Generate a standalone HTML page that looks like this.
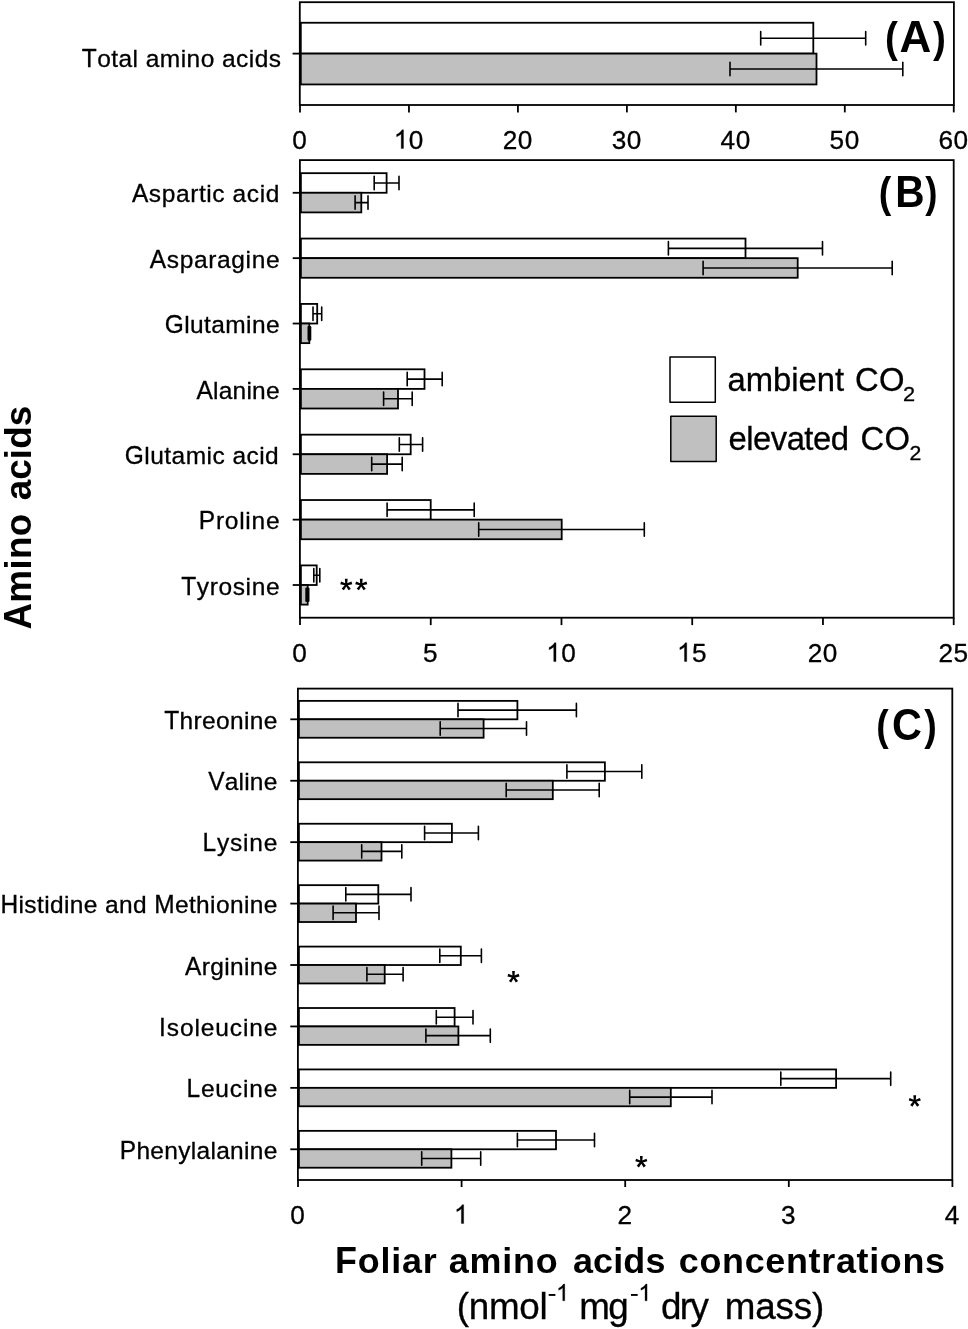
<!DOCTYPE html>
<html><head><meta charset="utf-8"><title>Foliar amino acids</title>
<style>
html,body{margin:0;padding:0;background:#fff;}
svg{display:block;will-change:transform;filter:blur(0.35px);}
text{font-family:"Liberation Sans",sans-serif;fill:#000;font-kerning:none;}
</style></head>
<body>
<svg width="968" height="1329" viewBox="0 0 968 1329">
<rect x="0" y="0" width="968" height="1329" fill="#fff"/>
<rect x="300.80" y="22.76" width="512.50" height="30.84" fill="#fff" stroke="#000" stroke-width="1.8"/>
<rect x="300.80" y="53.60" width="515.70" height="30.84" fill="#c0c0c0" stroke="#000" stroke-width="1.8"/>
<rect x="299.80" y="2.20" width="654.10" height="102.80" fill="none" stroke="#000" stroke-width="1.8"/>
<path d="M760.70 31.48V44.88M865.70 31.48V44.88M760.70 38.18H865.70" fill="none" stroke="#000" stroke-width="1.6" stroke-linecap="round"/>
<path d="M730.00 62.32V75.72M902.80 62.32V75.72M730.00 69.02H902.80" fill="none" stroke="#000" stroke-width="1.6" stroke-linecap="round"/>
<line x1="292.60" y1="53.60" x2="299.80" y2="53.60" stroke="#000" stroke-width="1.8"/>
<text transform="translate(81.80,67.10) scale(1.0000,1.04)" font-size="24.5" font-weight="normal" letter-spacing="0.447" xml:space="preserve" stroke="#000" stroke-width="0.3" >T</text>
<text transform="translate(97.21,67.10) scale(1.0000,1.0)" font-size="24.5" font-weight="normal" letter-spacing="0.447" xml:space="preserve" stroke="#000" stroke-width="0.3" >otal amino acids</text>
<line x1="300.00" y1="105.00" x2="300.00" y2="112.40" stroke="#000" stroke-width="1.8"/>
<text transform="translate(292.31,148.60) scale(1,1.015)" font-size="26.2" stroke="#000" stroke-width="0.3">0</text>
<line x1="408.96" y1="105.00" x2="408.96" y2="112.40" stroke="#000" stroke-width="1.8"/>
<path transform="translate(393.74,148.60) scale(0.01279,-0.01279)" d="M763 0H583V1147Q518 1085 412.5 1023T223 930V1104Q374 1175 487 1276T647 1472H763Z" fill="#000" stroke="#000" stroke-width="24"/>
<text transform="translate(408.81,148.60) scale(1,1.015)" font-size="26.2" stroke="#000" stroke-width="0.3">0</text>
<line x1="517.92" y1="105.00" x2="517.92" y2="112.40" stroke="#000" stroke-width="1.8"/>
<text transform="translate(502.70,148.60) scale(1,1.015)" font-size="26.2" stroke="#000" stroke-width="0.3">2</text>
<text transform="translate(517.77,148.60) scale(1,1.015)" font-size="26.2" stroke="#000" stroke-width="0.3">0</text>
<line x1="626.88" y1="105.00" x2="626.88" y2="112.40" stroke="#000" stroke-width="1.8"/>
<text transform="translate(611.66,148.60) scale(1,1.015)" font-size="26.2" stroke="#000" stroke-width="0.3">3</text>
<text transform="translate(626.73,148.60) scale(1,1.015)" font-size="26.2" stroke="#000" stroke-width="0.3">0</text>
<line x1="735.84" y1="105.00" x2="735.84" y2="112.40" stroke="#000" stroke-width="1.8"/>
<text transform="translate(720.62,148.60) scale(1,1.015)" font-size="26.2" stroke="#000" stroke-width="0.3">4</text>
<text transform="translate(735.69,148.60) scale(1,1.015)" font-size="26.2" stroke="#000" stroke-width="0.3">0</text>
<line x1="844.80" y1="105.00" x2="844.80" y2="112.40" stroke="#000" stroke-width="1.8"/>
<text transform="translate(829.58,148.60) scale(1,1.015)" font-size="26.2" stroke="#000" stroke-width="0.3">5</text>
<text transform="translate(844.65,148.60) scale(1,1.015)" font-size="26.2" stroke="#000" stroke-width="0.3">0</text>
<line x1="953.76" y1="105.00" x2="953.76" y2="112.40" stroke="#000" stroke-width="1.8"/>
<text transform="translate(938.54,148.60) scale(1,1.015)" font-size="26.2" stroke="#000" stroke-width="0.3">6</text>
<text transform="translate(953.61,148.60) scale(1,1.015)" font-size="26.2" stroke="#000" stroke-width="0.3">0</text>
<rect x="300.90" y="173.17" width="85.70" height="19.61" fill="#fff" stroke="#000" stroke-width="1.8"/>
<rect x="300.90" y="192.79" width="60.40" height="19.61" fill="#c0c0c0" stroke="#000" stroke-width="1.8"/>
<rect x="300.90" y="238.55" width="444.60" height="19.61" fill="#fff" stroke="#000" stroke-width="1.8"/>
<rect x="300.90" y="258.16" width="496.80" height="19.61" fill="#c0c0c0" stroke="#000" stroke-width="1.8"/>
<rect x="300.90" y="303.92" width="16.30" height="19.61" fill="#fff" stroke="#000" stroke-width="1.8"/>
<rect x="300.90" y="323.53" width="8.40" height="19.61" fill="#c0c0c0" stroke="#000" stroke-width="1.8"/>
<rect x="300.90" y="369.29" width="123.60" height="19.61" fill="#fff" stroke="#000" stroke-width="1.8"/>
<rect x="300.90" y="388.90" width="97.10" height="19.61" fill="#c0c0c0" stroke="#000" stroke-width="1.8"/>
<rect x="300.90" y="434.66" width="109.80" height="19.61" fill="#fff" stroke="#000" stroke-width="1.8"/>
<rect x="300.90" y="454.27" width="86.20" height="19.61" fill="#c0c0c0" stroke="#000" stroke-width="1.8"/>
<rect x="300.90" y="500.03" width="129.80" height="19.61" fill="#fff" stroke="#000" stroke-width="1.8"/>
<rect x="300.90" y="519.64" width="260.80" height="19.61" fill="#c0c0c0" stroke="#000" stroke-width="1.8"/>
<rect x="300.90" y="565.40" width="15.80" height="19.61" fill="#fff" stroke="#000" stroke-width="1.8"/>
<rect x="300.90" y="585.01" width="6.80" height="19.61" fill="#c0c0c0" stroke="#000" stroke-width="1.8"/>
<rect x="299.90" y="160.10" width="653.80" height="457.60" fill="none" stroke="#000" stroke-width="1.8"/>
<path d="M374.20 176.28V189.68M399.00 176.28V189.68M374.20 182.98H399.00" fill="none" stroke="#000" stroke-width="1.6" stroke-linecap="round"/>
<path d="M355.10 195.89V209.29M368.00 195.89V209.29M355.10 202.59H368.00" fill="none" stroke="#000" stroke-width="1.6" stroke-linecap="round"/>
<line x1="292.70" y1="192.79" x2="299.90" y2="192.79" stroke="#000" stroke-width="1.8"/>
<text transform="translate(131.90,202.20) scale(1.0000,1.04)" font-size="24.5" font-weight="normal" letter-spacing="0.598" xml:space="preserve" stroke="#000" stroke-width="0.3" >A</text>
<text transform="translate(148.84,202.20) scale(1.0000,1.0)" font-size="24.5" font-weight="normal" letter-spacing="0.598" xml:space="preserve" stroke="#000" stroke-width="0.3" >spartic acid</text>
<path d="M668.40 241.65V255.05M822.50 241.65V255.05M668.40 248.35H822.50" fill="none" stroke="#000" stroke-width="1.6" stroke-linecap="round"/>
<path d="M703.10 261.26V274.66M892.20 261.26V274.66M703.10 267.96H892.20" fill="none" stroke="#000" stroke-width="1.6" stroke-linecap="round"/>
<line x1="292.70" y1="258.16" x2="299.90" y2="258.16" stroke="#000" stroke-width="1.8"/>
<text transform="translate(149.80,267.90) scale(1.0000,1.04)" font-size="24.5" font-weight="normal" letter-spacing="0.642" xml:space="preserve" stroke="#000" stroke-width="0.3" >A</text>
<text transform="translate(166.78,267.90) scale(1.0000,1.0)" font-size="24.5" font-weight="normal" letter-spacing="0.642" xml:space="preserve" stroke="#000" stroke-width="0.3" >sparagine</text>
<path d="M313.00 307.02V320.42M321.70 307.02V320.42M313.00 313.72H321.70" fill="none" stroke="#000" stroke-width="1.6" stroke-linecap="round"/>
<rect x="307.50" y="326.03" width="3.80" height="14.6" rx="1.1" fill="#000"/>
<line x1="292.70" y1="323.53" x2="299.90" y2="323.53" stroke="#000" stroke-width="1.8"/>
<text transform="translate(164.70,333.10) scale(1.0000,1.04)" font-size="24.5" font-weight="normal" letter-spacing="0.396" xml:space="preserve" stroke="#000" stroke-width="0.3" >G</text>
<text transform="translate(184.15,333.10) scale(1.0000,1.0)" font-size="24.5" font-weight="normal" letter-spacing="0.396" xml:space="preserve" stroke="#000" stroke-width="0.3" >lutamine</text>
<path d="M407.20 372.39V385.79M442.20 372.39V385.79M407.20 379.09H442.20" fill="none" stroke="#000" stroke-width="1.6" stroke-linecap="round"/>
<path d="M383.60 392.01V405.41M412.20 392.01V405.41M383.60 398.71H412.20" fill="none" stroke="#000" stroke-width="1.6" stroke-linecap="round"/>
<line x1="292.70" y1="388.90" x2="299.90" y2="388.90" stroke="#000" stroke-width="1.8"/>
<text transform="translate(196.50,398.60) scale(1.0000,1.04)" font-size="24.5" font-weight="normal" letter-spacing="0.216" xml:space="preserve" stroke="#000" stroke-width="0.3" >A</text>
<text transform="translate(213.06,398.60) scale(1.0000,1.0)" font-size="24.5" font-weight="normal" letter-spacing="0.216" xml:space="preserve" stroke="#000" stroke-width="0.3" >lanine</text>
<path d="M399.30 437.77V451.17M422.60 437.77V451.17M399.30 444.47H422.60" fill="none" stroke="#000" stroke-width="1.6" stroke-linecap="round"/>
<path d="M371.70 457.38V470.78M402.20 457.38V470.78M371.70 464.08H402.20" fill="none" stroke="#000" stroke-width="1.6" stroke-linecap="round"/>
<line x1="292.70" y1="454.27" x2="299.90" y2="454.27" stroke="#000" stroke-width="1.8"/>
<text transform="translate(124.80,463.70) scale(1.0000,1.04)" font-size="24.5" font-weight="normal" letter-spacing="0.460" xml:space="preserve" stroke="#000" stroke-width="0.3" >G</text>
<text transform="translate(144.32,463.70) scale(1.0000,1.0)" font-size="24.5" font-weight="normal" letter-spacing="0.460" xml:space="preserve" stroke="#000" stroke-width="0.3" >lutamic acid</text>
<path d="M387.10 503.14V516.54M474.20 503.14V516.54M387.10 509.84H474.20" fill="none" stroke="#000" stroke-width="1.6" stroke-linecap="round"/>
<path d="M478.70 522.75V536.15M644.30 522.75V536.15M478.70 529.45H644.30" fill="none" stroke="#000" stroke-width="1.6" stroke-linecap="round"/>
<line x1="292.70" y1="519.64" x2="299.90" y2="519.64" stroke="#000" stroke-width="1.8"/>
<text transform="translate(198.80,529.20) scale(1.0000,1.04)" font-size="24.5" font-weight="normal" letter-spacing="0.744" xml:space="preserve" stroke="#000" stroke-width="0.3" >P</text>
<text transform="translate(215.89,529.20) scale(1.0000,1.0)" font-size="24.5" font-weight="normal" letter-spacing="0.744" xml:space="preserve" stroke="#000" stroke-width="0.3" >roline</text>
<path d="M313.80 568.51V581.91M319.80 568.51V581.91M313.80 575.21H319.80" fill="none" stroke="#000" stroke-width="1.6" stroke-linecap="round"/>
<rect x="305.30" y="587.52" width="4.20" height="14.6" rx="1.1" fill="#000"/>
<line x1="292.70" y1="585.01" x2="299.90" y2="585.01" stroke="#000" stroke-width="1.8"/>
<text transform="translate(181.20,594.70) scale(1.0000,1.04)" font-size="24.5" font-weight="normal" letter-spacing="0.626" xml:space="preserve" stroke="#000" stroke-width="0.3" >T</text>
<text transform="translate(196.79,594.70) scale(1.0000,1.0)" font-size="24.5" font-weight="normal" letter-spacing="0.626" xml:space="preserve" stroke="#000" stroke-width="0.3" >yrosine</text>
<line x1="300.00" y1="617.70" x2="300.00" y2="625.10" stroke="#000" stroke-width="1.8"/>
<text transform="translate(292.31,661.60) scale(1,1.015)" font-size="26.2" stroke="#000" stroke-width="0.3">0</text>
<line x1="430.74" y1="617.70" x2="430.74" y2="625.10" stroke="#000" stroke-width="1.8"/>
<text transform="translate(423.05,661.60) scale(1,1.015)" font-size="26.2" stroke="#000" stroke-width="0.3">5</text>
<line x1="561.48" y1="617.70" x2="561.48" y2="625.10" stroke="#000" stroke-width="1.8"/>
<path transform="translate(546.26,661.60) scale(0.01279,-0.01279)" d="M763 0H583V1147Q518 1085 412.5 1023T223 930V1104Q374 1175 487 1276T647 1472H763Z" fill="#000" stroke="#000" stroke-width="24"/>
<text transform="translate(561.33,661.60) scale(1,1.015)" font-size="26.2" stroke="#000" stroke-width="0.3">0</text>
<line x1="692.22" y1="617.70" x2="692.22" y2="625.10" stroke="#000" stroke-width="1.8"/>
<path transform="translate(677.00,661.60) scale(0.01279,-0.01279)" d="M763 0H583V1147Q518 1085 412.5 1023T223 930V1104Q374 1175 487 1276T647 1472H763Z" fill="#000" stroke="#000" stroke-width="24"/>
<text transform="translate(692.07,661.60) scale(1,1.015)" font-size="26.2" stroke="#000" stroke-width="0.3">5</text>
<line x1="822.96" y1="617.70" x2="822.96" y2="625.10" stroke="#000" stroke-width="1.8"/>
<text transform="translate(807.74,661.60) scale(1,1.015)" font-size="26.2" stroke="#000" stroke-width="0.3">2</text>
<text transform="translate(822.81,661.60) scale(1,1.015)" font-size="26.2" stroke="#000" stroke-width="0.3">0</text>
<line x1="953.70" y1="617.70" x2="953.70" y2="625.10" stroke="#000" stroke-width="1.8"/>
<text transform="translate(938.48,661.60) scale(1,1.015)" font-size="26.2" stroke="#000" stroke-width="0.3">2</text>
<text transform="translate(953.55,661.60) scale(1,1.015)" font-size="26.2" stroke="#000" stroke-width="0.3">5</text>
<rect x="298.90" y="700.88" width="218.50" height="18.43" fill="#fff" stroke="#000" stroke-width="1.8"/>
<rect x="298.90" y="719.31" width="184.70" height="18.43" fill="#c0c0c0" stroke="#000" stroke-width="1.8"/>
<rect x="298.90" y="762.31" width="306.00" height="18.43" fill="#fff" stroke="#000" stroke-width="1.8"/>
<rect x="298.90" y="780.74" width="253.90" height="18.43" fill="#c0c0c0" stroke="#000" stroke-width="1.8"/>
<rect x="298.90" y="823.74" width="153.00" height="18.43" fill="#fff" stroke="#000" stroke-width="1.8"/>
<rect x="298.90" y="842.16" width="82.60" height="18.43" fill="#c0c0c0" stroke="#000" stroke-width="1.8"/>
<rect x="298.90" y="885.16" width="79.40" height="18.43" fill="#fff" stroke="#000" stroke-width="1.8"/>
<rect x="298.90" y="903.59" width="57.10" height="18.43" fill="#c0c0c0" stroke="#000" stroke-width="1.8"/>
<rect x="298.90" y="946.59" width="161.90" height="18.43" fill="#fff" stroke="#000" stroke-width="1.8"/>
<rect x="298.90" y="965.01" width="85.80" height="18.43" fill="#c0c0c0" stroke="#000" stroke-width="1.8"/>
<rect x="298.90" y="1008.01" width="155.70" height="18.43" fill="#fff" stroke="#000" stroke-width="1.8"/>
<rect x="298.90" y="1026.44" width="159.50" height="18.43" fill="#c0c0c0" stroke="#000" stroke-width="1.8"/>
<rect x="298.90" y="1069.43" width="537.20" height="18.43" fill="#fff" stroke="#000" stroke-width="1.8"/>
<rect x="298.90" y="1087.86" width="371.90" height="18.43" fill="#c0c0c0" stroke="#000" stroke-width="1.8"/>
<rect x="298.90" y="1130.86" width="257.10" height="18.43" fill="#fff" stroke="#000" stroke-width="1.8"/>
<rect x="298.90" y="1149.29" width="152.50" height="18.43" fill="#c0c0c0" stroke="#000" stroke-width="1.8"/>
<rect x="297.90" y="688.60" width="654.40" height="491.40" fill="none" stroke="#000" stroke-width="1.8"/>
<path d="M458.00 703.40V716.80M576.40 703.40V716.80M458.00 710.10H576.40" fill="none" stroke="#000" stroke-width="1.6" stroke-linecap="round"/>
<path d="M440.20 721.83V735.23M526.50 721.83V735.23M440.20 728.53H526.50" fill="none" stroke="#000" stroke-width="1.6" stroke-linecap="round"/>
<line x1="290.30" y1="719.31" x2="297.90" y2="719.31" stroke="#000" stroke-width="1.8"/>
<text transform="translate(164.20,728.70) scale(1.0000,1.04)" font-size="24.5" font-weight="normal" letter-spacing="0.350" xml:space="preserve" stroke="#000" stroke-width="0.3" >T</text>
<text transform="translate(179.52,728.70) scale(1.0000,1.0)" font-size="24.5" font-weight="normal" letter-spacing="0.350" xml:space="preserve" stroke="#000" stroke-width="0.3" >hreonine</text>
<path d="M566.90 764.82V778.22M641.80 764.82V778.22M566.90 771.52H641.80" fill="none" stroke="#000" stroke-width="1.6" stroke-linecap="round"/>
<path d="M506.20 783.25V796.65M599.20 783.25V796.65M506.20 789.95H599.20" fill="none" stroke="#000" stroke-width="1.6" stroke-linecap="round"/>
<line x1="290.30" y1="780.74" x2="297.90" y2="780.74" stroke="#000" stroke-width="1.8"/>
<text transform="translate(208.20,789.80) scale(1.0000,1.04)" font-size="24.5" font-weight="normal" letter-spacing="0.204" xml:space="preserve" stroke="#000" stroke-width="0.3" >V</text>
<text transform="translate(224.75,789.80) scale(1.0000,1.0)" font-size="24.5" font-weight="normal" letter-spacing="0.204" xml:space="preserve" stroke="#000" stroke-width="0.3" >aline</text>
<path d="M424.60 826.25V839.65M478.40 826.25V839.65M424.60 832.95H478.40" fill="none" stroke="#000" stroke-width="1.6" stroke-linecap="round"/>
<path d="M361.70 844.68V858.08M401.80 844.68V858.08M361.70 851.38H401.80" fill="none" stroke="#000" stroke-width="1.6" stroke-linecap="round"/>
<line x1="290.30" y1="842.16" x2="297.90" y2="842.16" stroke="#000" stroke-width="1.8"/>
<text transform="translate(202.50,851.10) scale(1.0000,1.04)" font-size="24.5" font-weight="normal" letter-spacing="0.801" xml:space="preserve" stroke="#000" stroke-width="0.3" >L</text>
<text transform="translate(216.93,851.10) scale(1.0000,1.0)" font-size="24.5" font-weight="normal" letter-spacing="0.801" xml:space="preserve" stroke="#000" stroke-width="0.3" >ysine</text>
<path d="M345.80 887.67V901.07M411.00 887.67V901.07M345.80 894.37H411.00" fill="none" stroke="#000" stroke-width="1.6" stroke-linecap="round"/>
<path d="M333.10 906.10V919.50M379.00 906.10V919.50M333.10 912.80H379.00" fill="none" stroke="#000" stroke-width="1.6" stroke-linecap="round"/>
<line x1="290.30" y1="903.59" x2="297.90" y2="903.59" stroke="#000" stroke-width="1.8"/>
<text transform="translate(0.50,912.50) scale(1.0000,1.04)" font-size="24.5" font-weight="normal" letter-spacing="0.371" xml:space="preserve" stroke="#000" stroke-width="0.3" >H</text>
<text transform="translate(18.56,912.50) scale(1.0000,1.0)" font-size="24.5" font-weight="normal" letter-spacing="0.371" xml:space="preserve" stroke="#000" stroke-width="0.3" >istidine and </text>
<text transform="translate(154.13,912.50) scale(1.0000,1.04)" font-size="24.5" font-weight="normal" letter-spacing="0.371" xml:space="preserve" stroke="#000" stroke-width="0.3" >M</text>
<text transform="translate(174.91,912.50) scale(1.0000,1.0)" font-size="24.5" font-weight="normal" letter-spacing="0.371" xml:space="preserve" stroke="#000" stroke-width="0.3" >ethionine</text>
<path d="M439.80 949.10V962.50M481.40 949.10V962.50M439.80 955.80H481.40" fill="none" stroke="#000" stroke-width="1.6" stroke-linecap="round"/>
<path d="M366.90 967.53V980.93M403.10 967.53V980.93M366.90 974.23H403.10" fill="none" stroke="#000" stroke-width="1.6" stroke-linecap="round"/>
<line x1="290.30" y1="965.01" x2="297.90" y2="965.01" stroke="#000" stroke-width="1.8"/>
<text transform="translate(185.00,974.90) scale(1.0000,1.04)" font-size="24.5" font-weight="normal" letter-spacing="0.348" xml:space="preserve" stroke="#000" stroke-width="0.3" >A</text>
<text transform="translate(201.69,974.90) scale(1.0000,1.0)" font-size="24.5" font-weight="normal" letter-spacing="0.348" xml:space="preserve" stroke="#000" stroke-width="0.3" >rginine</text>
<path d="M436.30 1010.52V1023.92M473.00 1010.52V1023.92M436.30 1017.22H473.00" fill="none" stroke="#000" stroke-width="1.6" stroke-linecap="round"/>
<path d="M425.90 1028.95V1042.35M490.30 1028.95V1042.35M425.90 1035.65H490.30" fill="none" stroke="#000" stroke-width="1.6" stroke-linecap="round"/>
<line x1="290.30" y1="1026.44" x2="297.90" y2="1026.44" stroke="#000" stroke-width="1.8"/>
<text transform="translate(159.10,1036.00) scale(1.0000,1.04)" font-size="24.5" font-weight="normal" letter-spacing="0.878" xml:space="preserve" stroke="#000" stroke-width="0.3" >I</text>
<text transform="translate(166.79,1036.00) scale(1.0000,1.0)" font-size="24.5" font-weight="normal" letter-spacing="0.878" xml:space="preserve" stroke="#000" stroke-width="0.3" >soleucine</text>
<path d="M780.80 1071.95V1085.35M890.70 1071.95V1085.35M780.80 1078.65H890.70" fill="none" stroke="#000" stroke-width="1.6" stroke-linecap="round"/>
<path d="M629.70 1090.38V1103.78M712.00 1090.38V1103.78M629.70 1097.08H712.00" fill="none" stroke="#000" stroke-width="1.6" stroke-linecap="round"/>
<line x1="290.30" y1="1087.86" x2="297.90" y2="1087.86" stroke="#000" stroke-width="1.8"/>
<text transform="translate(186.40,1097.30) scale(1.0000,1.04)" font-size="24.5" font-weight="normal" letter-spacing="0.851" xml:space="preserve" stroke="#000" stroke-width="0.3" >L</text>
<text transform="translate(200.88,1097.30) scale(1.0000,1.0)" font-size="24.5" font-weight="normal" letter-spacing="0.851" xml:space="preserve" stroke="#000" stroke-width="0.3" >eucine</text>
<path d="M517.40 1133.37V1146.77M594.50 1133.37V1146.77M517.40 1140.07H594.50" fill="none" stroke="#000" stroke-width="1.6" stroke-linecap="round"/>
<path d="M421.70 1151.80V1165.20M480.70 1151.80V1165.20M421.70 1158.50H480.70" fill="none" stroke="#000" stroke-width="1.6" stroke-linecap="round"/>
<line x1="290.30" y1="1149.29" x2="297.90" y2="1149.29" stroke="#000" stroke-width="1.8"/>
<text transform="translate(119.80,1158.70) scale(1.0000,1.04)" font-size="24.5" font-weight="normal" letter-spacing="0.300" xml:space="preserve" stroke="#000" stroke-width="0.3" >P</text>
<text transform="translate(136.44,1158.70) scale(1.0000,1.0)" font-size="24.5" font-weight="normal" letter-spacing="0.300" xml:space="preserve" stroke="#000" stroke-width="0.3" >henylalanine</text>
<line x1="298.00" y1="1180.00" x2="298.00" y2="1187.00" stroke="#000" stroke-width="1.8"/>
<text transform="translate(290.31,1223.50) scale(1,1.015)" font-size="26.2" stroke="#000" stroke-width="0.3">0</text>
<line x1="461.60" y1="1180.00" x2="461.60" y2="1187.00" stroke="#000" stroke-width="1.8"/>
<path transform="translate(453.91,1223.50) scale(0.01279,-0.01279)" d="M763 0H583V1147Q518 1085 412.5 1023T223 930V1104Q374 1175 487 1276T647 1472H763Z" fill="#000" stroke="#000" stroke-width="24"/>
<line x1="625.20" y1="1180.00" x2="625.20" y2="1187.00" stroke="#000" stroke-width="1.8"/>
<text transform="translate(617.51,1223.50) scale(1,1.015)" font-size="26.2" stroke="#000" stroke-width="0.3">2</text>
<line x1="788.80" y1="1180.00" x2="788.80" y2="1187.00" stroke="#000" stroke-width="1.8"/>
<text transform="translate(781.11,1223.50) scale(1,1.015)" font-size="26.2" stroke="#000" stroke-width="0.3">3</text>
<line x1="952.40" y1="1180.00" x2="952.40" y2="1187.00" stroke="#000" stroke-width="1.8"/>
<text transform="translate(944.71,1223.50) scale(1,1.015)" font-size="26.2" stroke="#000" stroke-width="0.3">4</text>
<text transform="translate(885.00,51.90) scale(0.9000,1.0)" font-size="43" font-weight="bold" letter-spacing="0.000" xml:space="preserve"  >(</text>
<text transform="translate(899.38,51.90) scale(1.0241,1.05)" font-size="43" font-weight="bold" letter-spacing="0.000" xml:space="preserve"  >A</text>
<text transform="translate(933.10,51.90) scale(0.9000,1.0)" font-size="43" font-weight="bold" letter-spacing="0.000" xml:space="preserve"  >)</text>
<text transform="translate(878.65,206.90) scale(0.8769,1.0)" font-size="43" font-weight="bold" letter-spacing="0.000" xml:space="preserve"  >(</text>
<text transform="translate(895.31,206.90) scale(0.9429,1.035)" font-size="43" font-weight="bold" letter-spacing="0.000" xml:space="preserve"  >B</text>
<text transform="translate(925.30,206.90) scale(0.8538,1.0)" font-size="43" font-weight="bold" letter-spacing="0.000" xml:space="preserve"  >)</text>
<text transform="translate(876.16,739.90) scale(0.8692,1.0)" font-size="43" font-weight="bold" letter-spacing="0.000" xml:space="preserve"  >(</text>
<text transform="translate(891.94,739.90) scale(0.9621,1.035)" font-size="43" font-weight="bold" letter-spacing="0.000" xml:space="preserve"  >C</text>
<text transform="translate(924.20,739.90) scale(0.8769,1.0)" font-size="43" font-weight="bold" letter-spacing="0.000" xml:space="preserve"  >)</text>
<rect x="670.0" y="357.0" width="45.3" height="45.3" fill="#fff" stroke="#000" stroke-width="1.5" stroke-linejoin="round"/>
<rect x="670.8" y="416.2" width="45.4" height="45.2" fill="#c0c0c0" stroke="#000" stroke-width="1.5" stroke-linejoin="round"/>
<text transform="translate(727.60,390.50) scale(1.0000,1.0)" font-size="32.8" font-weight="normal" letter-spacing="-0.044" xml:space="preserve" stroke="#000" stroke-width="0.3" >ambient</text>
<text transform="translate(854.90,390.50) scale(1.0000,1.04)" font-size="32.8" font-weight="normal" letter-spacing="0.415" xml:space="preserve" stroke="#000" stroke-width="0.3" >CO</text>
<text transform="translate(903.01,400.50) scale(1.0900,1.04)" font-size="20" font-weight="normal" letter-spacing="0.000" xml:space="preserve" stroke="#000" stroke-width="0.3" >2</text>
<text transform="translate(728.50,449.50) scale(1.0000,1.0)" font-size="32.8" font-weight="normal" letter-spacing="-0.508" xml:space="preserve" stroke="#000" stroke-width="0.3" >elevated</text>
<text transform="translate(860.40,449.50) scale(1.0000,1.04)" font-size="32.8" font-weight="normal" letter-spacing="0.515" xml:space="preserve" stroke="#000" stroke-width="0.3" >CO</text>
<text transform="translate(909.44,460.20) scale(1.0600,1.04)" font-size="20" font-weight="normal" letter-spacing="0.000" xml:space="preserve" stroke="#000" stroke-width="0.3" >2</text>
<path d="M347.20 584.70L347.63 578.80L344.87 578.80L345.30 584.70ZM346.54 585.60L352.29 584.19L351.43 581.56L345.96 583.80ZM345.48 585.26L348.60 590.28L350.83 588.66L347.02 584.14ZM345.48 584.14L341.67 588.66L343.90 590.28L347.02 585.26ZM346.54 583.80L341.07 581.56L340.21 584.19L345.96 585.60Z" fill="#000"/>
<circle cx="346.25" cy="584.70" r="1.1" fill="#000"/>
<path d="M362.20 584.70L362.63 578.80L359.87 578.80L360.30 584.70ZM361.54 585.60L367.29 584.19L366.43 581.56L360.96 583.80ZM360.48 585.26L363.60 590.28L365.83 588.66L362.02 584.14ZM360.48 584.14L356.67 588.66L358.90 590.28L362.02 585.26ZM361.54 583.80L356.07 581.56L355.21 584.19L360.96 585.60Z" fill="#000"/>
<circle cx="361.25" cy="584.70" r="1.1" fill="#000"/>
<path d="M514.45 977.00L514.88 971.10L512.12 971.10L512.55 977.00ZM513.79 977.90L519.54 976.49L518.68 973.86L513.21 976.10ZM512.73 977.56L515.85 982.58L518.08 980.96L514.27 976.44ZM512.73 976.44L508.92 980.96L511.15 982.58L514.27 977.56ZM513.79 976.10L508.32 973.86L507.46 976.49L513.21 977.90Z" fill="#000"/>
<circle cx="513.50" cy="977.00" r="1.1" fill="#000"/>
<path d="M915.70 1101.10L916.13 1095.20L913.37 1095.20L913.80 1101.10ZM915.04 1102.00L920.79 1100.59L919.93 1097.96L914.46 1100.20ZM913.98 1101.66L917.10 1106.68L919.33 1105.06L915.52 1100.54ZM913.98 1100.54L910.17 1105.06L912.40 1106.68L915.52 1101.66ZM915.04 1100.20L909.57 1097.96L908.71 1100.59L914.46 1102.00Z" fill="#000"/>
<circle cx="914.75" cy="1101.10" r="1.1" fill="#000"/>
<path d="M642.25 1161.85L642.68 1155.95L639.92 1155.95L640.35 1161.85ZM641.59 1162.75L647.34 1161.34L646.48 1158.71L641.01 1160.95ZM640.53 1162.41L643.65 1167.43L645.88 1165.81L642.07 1161.29ZM640.53 1161.29L636.72 1165.81L638.95 1167.43L642.07 1162.41ZM641.59 1160.95L636.12 1158.71L635.26 1161.34L641.01 1162.75Z" fill="#000"/>
<circle cx="641.30" cy="1161.85" r="1.1" fill="#000"/>
<g transform="translate(31.15,0) rotate(-90)">
<text transform="translate(-629.60,0.00) scale(1.0000,1.04)" font-size="36.8" font-weight="bold" letter-spacing="0.352" xml:space="preserve"  >A</text>
<text transform="translate(-602.67,0.00) scale(1.0000,1.0)" font-size="36.8" font-weight="bold" letter-spacing="0.352" xml:space="preserve"  >mino</text>
<text transform="translate(-500.20,0.00) scale(1.0000,1.0)" font-size="36.8" font-weight="bold" letter-spacing="0.068" xml:space="preserve"  >acids</text>
</g>
<text transform="translate(335.00,1273.20) scale(1.0000,1.04)" font-size="35.9" font-weight="bold" letter-spacing="0.790" xml:space="preserve"  >F</text>
<text transform="translate(357.71,1273.20) scale(1.0000,1.0)" font-size="35.9" font-weight="bold" letter-spacing="0.790" xml:space="preserve"  >oliar</text>
<text transform="translate(448.80,1273.20) scale(1.0000,1.0)" font-size="35.9" font-weight="bold" letter-spacing="0.808" xml:space="preserve"  >amino</text>
<text transform="translate(572.90,1273.20) scale(1.0000,1.0)" font-size="35.9" font-weight="bold" letter-spacing="0.171" xml:space="preserve"  >acids</text>
<text transform="translate(678.80,1273.20) scale(1.0000,1.0)" font-size="35.9" font-weight="bold" letter-spacing="0.692" xml:space="preserve"  >concentrations</text>
<text transform="translate(456.70,1319.00) scale(1.0000,1.0)" font-size="36.8" font-weight="normal" letter-spacing="-0.259" xml:space="preserve" stroke="#000" stroke-width="0.3" >(nmol</text>
<text transform="translate(579.20,1319.00) scale(1.0000,1.0)" font-size="36.8" font-weight="normal" letter-spacing="-1.552" xml:space="preserve" stroke="#000" stroke-width="0.3" >mg</text>
<text transform="translate(661.00,1319.00) scale(1.0000,1.0)" font-size="36.8" font-weight="normal" letter-spacing="-1.609" xml:space="preserve" stroke="#000" stroke-width="0.3" >dry</text>
<text transform="translate(724.70,1319.00) scale(1.0000,1.0)" font-size="36.8" font-weight="normal" letter-spacing="-0.128" xml:space="preserve" stroke="#000" stroke-width="0.3" >mass)</text>
<rect x="548.70" y="1294.0" width="6.7" height="1.9" fill="#000"/>
<path transform="translate(556.09,1300.80) scale(0.01138,-0.01138)" d="M763 0H583V1147Q518 1085 412.5 1023T223 930V1104Q374 1175 487 1276T647 1472H763Z" fill="#000" stroke="#000" stroke-width="24"/>
<rect x="631.00" y="1294.0" width="6.7" height="1.9" fill="#000"/>
<path transform="translate(638.39,1300.80) scale(0.01138,-0.01138)" d="M763 0H583V1147Q518 1085 412.5 1023T223 930V1104Q374 1175 487 1276T647 1472H763Z" fill="#000" stroke="#000" stroke-width="24"/>
</svg>
</body></html>
